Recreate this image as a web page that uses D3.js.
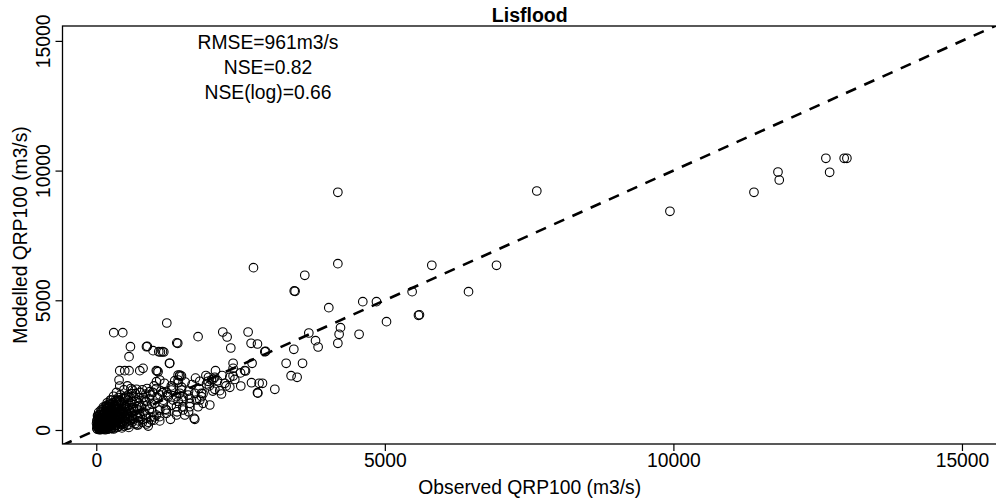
<!DOCTYPE html>
<html>
<head>
<meta charset="utf-8">
<script src="https://cdn.jsdelivr.net/npm/d3@7"></script>
<style>
  body { margin: 0; background: #fff; }
  text { font-family: Arial, "Liberation Sans", sans-serif; fill: #000; }
</style>
</head>
<body>
<div id="chart"></div>
<script>
const width = 996,
  height = 502,
  plotLeft = 62.5, plotRight = 997, plotTop = 26, plotBottom = 444,
  radius = 4.3,
  fontSize = 19.3;

// observed / modelled QRP100 (m3/s)
const observed = [
  // high outliers
  4186, 7633, 9940, 11396, 11812, 11834, 12642, 12707, 12959, 13006,
  2724, 4186, 3613, 3445, 3430, 5814, 6935, 4029, 4618, 4855, 5473, 6450, 5583, 5600, 5029,
  4554, 4232, 4208, 4186, 3683, 3799, 3844, 3423, 3290, 3574, 3376, 3480,
  2631, 2192, 2267, 2331, 2683, 2793, 2920, 2935, 1764, 1222, 1412, 1395, 1147, 1083,
  1268, 2371, 2586, 2570, 2700, 1071, 2066, 1447, 2371, 1944, 3094, 2690, 2821, 2880,
  2793, 2800, 2504, 2314, 2227, 2314, 2140, 2054, 2371, 2024, 1937, 1967, 1695,
  1418, 1331, 1476, 1591, 1707, 1823, 1504, 1620, 1390, 1764, 1534, 1418, 1476, 1274,
  303, 459, 592, 568, 870, 885, 984, 1112, 1170, 407, 494, 568, 754, 811, 1054, 1040,
  1447, 1418, 395, 407, 1043, 1100, 2054, 1996, 1794, 1910, 697, 627, 927, 858,
  1390, 1504, 1620, 1794, 1851, 1147, 1244, 1303, 494, 407, 246, 1100, 1216, 1286, 870, 724,
  2170, 1707, 1390, 1504, 1620, 1216, 1100, 956, 1043, 870, 1736, 1823, 1447, 1331, 1158, 1014,
  // middle band
  650, 700, 760, 820, 880, 940, 1000, 1060, 1120, 1180, 1240, 1300, 1360, 1420, 1480, 1540, 1600,
  1660, 1720, 1780, 1850, 1900, 1960, 2020, 2100, 2180, 2250, 2400, 2500,
  300, 350, 420, 480, 540, 600, 230, 280, 330, 380, 440, 500, 560, 620, 680, 740, 800, 860, 920,
  980, 1040, 1100, 1160, 1220, 150, 180, 210, 120, 90, 60, 190, 260,
  700, 800, 900, 1000, 1100, 1200, 1300, 1400, 1500, 1600,
  // cluster
  20, 35, 50, 60, 75, 80, 90, 100, 110, 120, 130, 140, 150, 160, 170, 180, 190, 200, 210, 220,
  230, 240, 250, 260, 270, 280, 290, 300, 310, 320, 330, 340, 350, 360, 370, 380, 390, 400, 410, 420,
  430, 440, 450, 460, 470, 480, 490, 500, 510, 520, 530, 540, 550, 560, 570, 580, 590, 600, 610, 620,
  630, 640, 650, 660, 670, 680, 690, 700, 710, 720, 730, 740, 750, 760, 780, 800, 820, 840, 860, 880,
  900, 920, 940, 960, 980, 1000,
  15, 25, 40, 55, 65, 85, 95, 105, 115, 125, 135, 145, 155, 165, 175, 185, 195, 205, 215, 225,
  235, 245, 255, 265, 275, 285, 295, 305, 315, 325, 335, 345, 355, 365, 375, 385, 395, 405, 415, 425,
  435, 445, 455, 465, 475, 485, 495, 505, 515, 525, 535, 545, 555, 565, 575, 585, 595, 605, 615, 625,
  10, 30, 45, 70, 90, 100, 115, 130, 150, 165, 185, 200, 220, 240, 260, 280, 300, 320, 50, 70, 30, 45, 80,
  5, 18, 28, 38, 48, 58, 68, 78, 88, 98, 108, 118, 128, 138, 148, 158, 168, 178, 188, 198,
  208, 218, 228, 238, 248, 258, 268, 278, 288, 298, 308, 318, 328, 338, 348, 358, 368, 378, 388, 398,
  12, 22, 42, 62, 82, 102, 122, 142, 162, 182, 202, 222, 242, 262, 282, 302, 322, 342, 362, 382
];
const modelled = [
  9163, 9214, 8431, 9163, 9946, 9637, 10474, 9934, 10474, 10474,
  6257, 6411, 5964, 5347, 5360, 6349, 6349, 4715, 4946, 4946, 5332, 5332, 4422, 4440, 4175,
  3689, 3944, 3689, 3342, 3739, 3443, 3200, 3111, 2571, 2571, 2093, 2032,
  3778, 3778, 3585, 3161, 3342, 3315, 3018, 3030, 3597, 4125, 3342, 3360, 3018, 3018,
  2571, 2571, 2274, 2290, 2571, 2247, 2286, 2081, 2081, 2032, 1569, 1823, 1800, 1800,
  1438, 1420, 1696, 2032, 1800, 1646, 1515, 1569, 2378, 1954, 1877, 964, 451,
  1823, 1646, 1542, 1349, 1415, 1284, 1157, 1029, 898, 898, 578, 2120, 2082, 2571,
  3751, 3751, 3211, 2826, 3211, 3225, 3057, 3007, 3007, 2286, 2286, 2286, 2286, 2378, 2274, 2290,
  2120, 1928, 1928, 1696, 1862, 1928, 2032, 1928, 1877, 1773, 1569, 1542, 1476, 1388,
  1284, 1284, 1222, 1157, 1029, 1438, 1284, 1542, 1261, 1157, 1157, 771, 642, 412, 231, 193,
  1388, 412, 578, 771, 898, 771, 513, 385, 578, 451, 1157, 1415, 1415, 1157, 1029, 1029,
  1300, 1150, 1450, 1250, 1600, 1350, 1700, 1250, 1500, 1800, 1350, 1700, 1900, 1100, 1650, 1850, 1500,
  1750, 2000, 1600, 1400, 2100, 1700, 1500, 1900, 2100, 1700, 1950, 2200,
  1300, 1450, 1350, 1550, 1700, 1600, 900, 1000, 1150, 1250, 1050, 1200, 1350, 1100, 1400, 1250, 1550, 1100, 1200,
  1450, 1600, 1350, 1150, 1450, 700, 820, 950, 600, 500, 450, 1050, 1150,
  200, 300, 150, 500, 350, 800, 950, 700, 900, 700,
  30, 80, 40, 120, 60, 180, 100, 40, 150, 250, 90, 200, 320, 130, 60, 260, 400, 170, 90, 330,
  220, 480, 140, 280, 380, 200, 560, 120, 300, 430, 240, 650, 180, 360, 520, 280, 720, 150, 410, 600,
  330, 800, 220, 480, 700, 380, 260, 560, 900, 320, 640, 450, 780, 200, 520, 950, 370, 680, 1000, 300,
  560, 850, 420, 720, 1100, 250, 600, 900, 470, 780, 350, 1050, 640, 520, 880, 400, 720, 1150, 580, 950,
  300, 800, 500, 1000, 680, 380,
  150, 220, 300, 10, 250, 350, 20, 280, 450, 30, 380, 520, 10, 450, 160, 600, 30, 500, 700, 50,
  600, 350, 820, 60, 480, 740, 350, 900, 80, 560, 800, 420, 1000, 100, 620, 880, 520, 1100, 250, 700,
  950, 80, 620, 1200, 150, 820, 1000, 420, 1300, 180, 860, 600, 1150, 100, 740, 1250, 500, 850, 1400, 450,
  60, 120, 200, 20, 280, 200, 80, 310, 60, 250, 100, 380, 150, 260, 60, 420, 40, 180, 350, 420, 450, 520, 600,
  250, 400, 520, 90, 330, 600, 180, 470, 700, 260, 560, 800, 380, 650, 220, 900, 500, 720, 320, 850,
  600, 420, 1000, 700, 180, 880, 520, 750, 1050, 400, 650, 900, 280, 760, 1100, 500, 820, 350, 980, 700,
  350, 550, 680, 300, 760, 450, 880, 620, 300, 950, 700, 500, 1000, 780, 600, 260, 950, 680, 1150, 800
];

const xTicks = [0, 5000, 10000, 15000];
const yTicks = [0, 5000, 10000, 15000];
const statLines = ["RMSE=961m3/s", "NSE=0.82", "NSE(log)=0.66"];

const points = observed.map((d, i) => ({ obs: d, mod: modelled[i] }));

const svg = d3.select("#chart")
  .append("svg")
  .attr("width", width)
  .attr("height", height);

const xScale = d3.scaleLinear()
  .domain([-585, 15607])
  .range([plotLeft, plotRight]);

const yScale = d3.scaleLinear()
  .domain([-540, 15574])
  .range([plotBottom, plotTop]);

svg.append("clipPath")
  .attr("id", "plot-clip")
  .append("rect")
  .attr("x", plotLeft)
  .attr("y", plotTop)
  .attr("width", plotRight - plotLeft)
  .attr("height", plotBottom - plotTop);

// points
svg.append("g")
  .selectAll("circle")
  .data(points)
  .join("circle")
  .attr("cx", d => xScale(d.obs))
  .attr("cy", d => yScale(d.mod))
  .attr("r", radius)
  .attr("fill", "none")
  .attr("stroke", "#000")
  .attr("stroke-width", 1.1);

// 1:1 line
svg.append("line")
  .attr("clip-path", "url(#plot-clip)")
  .attr("x1", xScale(-600))
  .attr("y1", yScale(-600))
  .attr("x2", xScale(16000))
  .attr("y2", yScale(16000))
  .attr("stroke", "#000")
  .attr("stroke-width", 2.6)
  .attr("stroke-dasharray", "11,9");

// box
svg.append("rect")
  .attr("x", plotLeft)
  .attr("y", plotTop)
  .attr("width", plotRight - plotLeft)
  .attr("height", plotBottom - plotTop)
  .attr("fill", "none")
  .attr("stroke", "#000")
  .attr("stroke-width", 1.3);

const xAxis = d3.axisBottom(xScale).tickValues(xTicks).tickSize(7).tickFormat(d3.format("d"));
const yAxis = d3.axisLeft(yScale).tickValues(yTicks).tickSize(7).tickFormat(d3.format("d"));

const gx = svg.append("g")
  .attr("transform", `translate(0,${plotBottom})`)
  .call(xAxis);
gx.select(".domain").remove();
gx.selectAll("line").attr("stroke-width", 1.2);
gx.selectAll("text")
  .attr("y", 23)
  .attr("dy", 0)
  .style("font-size", fontSize + "px")
  .attr("fill", "#000");

const gy = svg.append("g")
  .attr("transform", `translate(${plotLeft},0)`)
  .call(yAxis);
gy.select(".domain").remove();
gy.selectAll("line").attr("stroke-width", 1.2);
gy.selectAll("text")
  .attr("transform", "rotate(-90)")
  .attr("x", 0)
  .attr("y", -12.5)
  .attr("dy", 0)
  .attr("text-anchor", "middle")
  .style("font-size", fontSize + "px")
  .attr("fill", "#000");

// titles
svg.append("text")
  .attr("x", (plotLeft + plotRight) / 2)
  .attr("y", 22)
  .attr("text-anchor", "middle")
  .style("font-size", "19.5px")
  .style("font-weight", "bold")
  .text("Lisflood");

svg.append("text")
  .attr("x", (plotLeft + plotRight) / 2)
  .attr("y", 494)
  .attr("text-anchor", "middle")
  .style("font-size", fontSize + "px")
  .text("Observed QRP100 (m3/s)");

svg.append("text")
  .attr("transform", `translate(26.5,${(plotTop + plotBottom) / 2}) rotate(-90)`)
  .attr("text-anchor", "middle")
  .style("font-size", fontSize + "px")
  .text("Modelled QRP100 (m3/s)");

svg.append("g")
  .selectAll("text")
  .data(statLines)
  .join("text")
  .attr("x", 268)
  .attr("y", (d, i) => 49 + i * 25)
  .attr("text-anchor", "middle")
  .style("font-size", fontSize + "px")
  .text(d => d);
</script>
</body>
</html>
